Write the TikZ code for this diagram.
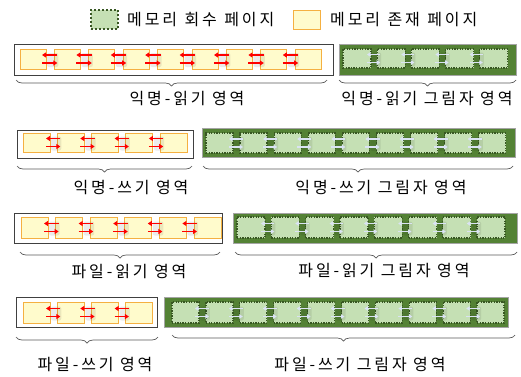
\documentclass[tikz,border=0pt]{standalone}
\usepackage{fontspec}
\newfontfamily\kr{Noto Sans CJK KR}[LetterSpace=18]
\usetikzlibrary{arrows.meta,decorations.pathreplacing,calc}
\definecolor{ypfill}{HTML}{FFFBCC}
\definecolor{ypdraw}{HTML}{F5B041}
\definecolor{gpfill}{HTML}{C5E0B4}
\definecolor{gpdraw}{HTML}{385723}
\definecolor{gbfill}{HTML}{548235}
\definecolor{gbdraw}{HTML}{A5A5A5}
\definecolor{boxdraw}{HTML}{404040}
\definecolor{arrlight}{HTML}{DAE3F3}
\definecolor{bracegray}{HTML}{595959}
\tikzset{
 ypage/.style={draw=ypdraw, fill=ypfill, line width=0.9pt, inner sep=0pt, outer sep=0pt},
 gpage/.style={draw=gpdraw, fill=gpfill, line width=1.3pt, dash pattern=on 1.3pt off 1.3pt, inner sep=0pt, outer sep=0pt},
 whitebox/.style={draw=boxdraw, fill=white, line width=0.9pt, inner sep=0pt, anchor=north west},
 greenbox/.style={draw=gbdraw, fill=gbfill, line width=0.9pt, inner sep=0pt, anchor=north west},
 redarr/.style={draw=red, line width=1.4pt, -{Triangle[length=4pt,width=5pt]}},
 bluearr/.style={draw=arrlight, line width=1.1pt, -{Triangle[length=3.5pt,width=4.5pt]}},
 arrshadow/.style={fill=black, opacity=0.08, rounded corners=2pt},
 brc/.style={draw=bracegray, line width=0.7pt, decorate, decoration={brace, mirror, amplitude=6pt}},
 lbl/.style={font=\kr\fontsize{16pt}{19pt}\selectfont, inner sep=0pt, text=black},
}
\newcommand{\pagerowdraw}[9]{% name, N, x0, spacing, ytop, w, h, page style, arrow style
 \pgfmathtruncatemacro{\rowlast}{#2-1}
 \foreach \i in {1,...,#2}{
   \node[#8, minimum width=#6pt, minimum height=#7pt, anchor=north west] (#1-\i) at ({#3+(\i-1)*#4}, #5) {};
 }
 \foreach \i in {1,...,\rowlast}{
   \pgfmathtruncatemacro{\nxt}{\i+1}
   \fill[arrshadow] ([xshift=1pt,yshift=6pt]#1-\i.east) rectangle ([xshift=4pt,yshift=-8pt]#1-\nxt.west);
   \draw[#9] ([xshift=3pt,yshift=4pt]#1-\nxt.west) -- ([xshift=-4pt,yshift=4pt]#1-\i.east);
   \draw[#9] ([xshift=-4pt,yshift=-4pt]#1-\i.east) -- ([xshift=3pt,yshift=-4pt]#1-\nxt.west);
 }
}
\begin{document}
\begin{tikzpicture}[x=1pt,y=-1pt]
\useasboundingbox (0,0) rectangle (521,376);
% legend
\node[gpage, line width=2pt, dash pattern=on 2pt off 2pt, minimum width=27pt, minimum height=19pt] (lgG) at (104,19) {};
\node[lbl, anchor=west] (lgGt) at (127,19.5) {메모리\hspace{1pt} 회수\hspace{1pt} 페이지};
\node[ypage, minimum width=27pt, minimum height=19pt] (lgY) at (306.5,19.5) {};
\node[lbl, anchor=west] (lgYt) at (330,19.5) {메모리\hspace{1pt} 존재\hspace{1pt} 페이지};
% row 1
\node[whitebox, minimum width=319pt, minimum height=31pt] (w1) at (14,44) {};
\node[greenbox, minimum width=177pt, minimum height=31pt] (g1) at (339,44) {};
\pagerowdraw{ya}{9}{20}{34.4}{49}{26}{20}{ypage}{redarr}
\pagerowdraw{ga}{5}{343}{34.2}{49}{28}{19}{gpage}{bluearr}
\draw[brc] (16,80) -- (327,80);
\draw[brc] (339,80) -- (516,80);
\node[lbl] (t1a) at (187,99) {익명-읽기 영역};
\node[lbl] (t1b) at (427,99) {익명-읽기 그림자 영역};
% row 2
\node[whitebox, minimum width=176pt, minimum height=28pt] (w2) at (17,130) {};
\node[greenbox, minimum width=313pt, minimum height=29pt] (g2) at (202,128) {};
\pagerowdraw{yb}{5}{23}{34.3}{133}{27}{19}{ypage}{redarr}
\pagerowdraw{gb}{9}{206}{34.1}{133}{27}{20}{gpage}{bluearr}
\draw[brc] (17,166) -- (192,166);
\draw[brc] (203,166) -- (513,166);
\node[lbl] (t2a) at (131,187) {익명-쓰기 영역};
\node[lbl] (t2b) at (381,187) {익명-쓰기 그림자 영역};
% row 3
\node[whitebox, minimum width=208pt, minimum height=30pt] (w3) at (14,213) {};
\node[greenbox, minimum width=284pt, minimum height=30pt] (g3) at (233,213) {};
\pagerowdraw{yc}{6}{21}{34.6}{217}{27}{21}{ypage}{redarr}
\pagerowdraw{gc}{8}{237}{34.3}{217}{28}{21}{gpage}{bluearr}
\draw[brc] (20,252) -- (220,252);
\draw[brc] (235,252) -- (517,252);
\node[lbl] (t3a) at (129,271) {파일-읽기 영역};
\node[lbl] (t3b) at (384,270) {파일-읽기 그림자 영역};
% row 4
\node[whitebox, minimum width=141pt, minimum height=30pt] (w4) at (16,297) {};
\node[greenbox, minimum width=344pt, minimum height=30pt] (g4) at (164,297) {};
\pagerowdraw{yd}{4}{23}{34.3}{302}{27}{21}{ypage}{redarr}
\pagerowdraw{gd}{10}{172}{33.9}{302}{27}{21}{gpage}{bluearr}
\draw[brc] (16,337) -- (158,337);
\draw[brc] (172,335) -- (515,335);
\node[lbl] (t4a) at (95,364) {파일-쓰기 영역};
\node[lbl] (t4b) at (360,364) {파일-쓰기 그림자 영역};
\end{tikzpicture}
\end{document}
